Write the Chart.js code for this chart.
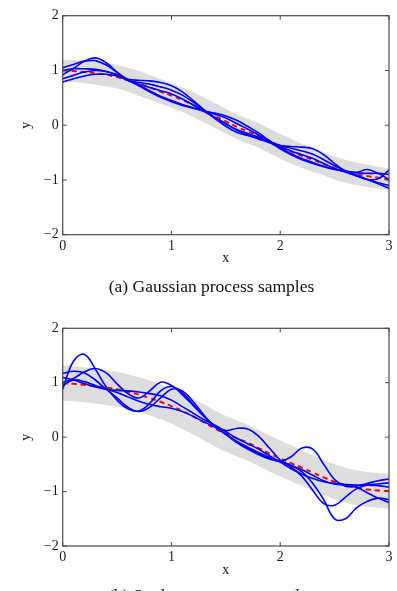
<!DOCTYPE html>
<html>
<head>
<meta charset="utf-8">
<script src="https://cdn.jsdelivr.net/npm/chart.js@4.4.1/dist/chart.umd.min.js"></script>
<style>
  body { margin: 0; width: 397px; height: 591px; overflow: hidden; background: #fff; position: relative; }
  canvas { position: absolute; left: 0; }
  #c1 { top: 0; }
  #c2 { top: 300px; }
  .cap { position: absolute; left: 0; width: 423px; text-align: center; font: 17.5px "Liberation Serif", serif; line-height: 20px; color: #111; white-space: nowrap; }
</style>
</head>
<body>
<canvas id="c1" width="397" height="300"></canvas>
<canvas id="c2" width="397" height="291"></canvas>
<div class="cap" style="top:276px">(a) Gaussian process samples</div>
<div class="cap" style="top:585px">(b) Student-t process samples</div>
<script>
// x grid shared by every curve
const xs = [0, 0.1, 0.2, 0.3, 0.4, 0.5, 0.6, 0.7, 0.8, 0.9, 1, 1.1, 1.2, 1.3, 1.4, 1.5,
  1.6, 1.7, 1.8, 1.9, 2, 2.1, 2.2, 2.3, 2.4, 2.5, 2.6, 2.7, 2.8, 2.9, 3];
const xTicks = [0, 1, 2, 3];
const yTicks = [-2, -1, 0, 1, 2];

// (a) gaussian process
const meanA = [1.00, 0.99, 0.97, 0.95, 0.92, 0.88, 0.82, 0.76, 0.69, 0.61, 0.54, 0.46, 0.37, 0.27, 0.17, 0.07,
  -0.03, -0.11, -0.19, -0.29, -0.39, -0.48, -0.56, -0.63, -0.71, -0.78, -0.84, -0.89, -0.93, -0.96, -0.99];
const upperA = [1.20, 1.19, 1.18, 1.16, 1.14, 1.10, 1.05, 0.99, 0.92, 0.84, 0.77, 0.69, 0.60, 0.50, 0.40, 0.30,
  0.20, 0.12, 0.04, -0.06, -0.16, -0.25, -0.34, -0.41, -0.49, -0.57, -0.63, -0.68, -0.72, -0.76, -0.79];
const lowerA = [0.80, 0.79, 0.77, 0.74, 0.71, 0.67, 0.61, 0.54, 0.47, 0.39, 0.32, 0.24, 0.15, 0.05, -0.05, -0.15,
  -0.25, -0.33, -0.41, -0.51, -0.61, -0.70, -0.78, -0.85, -0.92, -0.99, -1.05, -1.09, -1.13, -1.16, -1.19];
const sampA1 = [0.92, 1.04, 1.17, 1.23, 1.14, 0.97, 0.82, 0.78, 0.75, 0.70, 0.64, 0.55, 0.42, 0.27, 0.14, 0.02,
  -0.08, -0.15, -0.22, -0.30, -0.37, -0.42, -0.47, -0.53, -0.63, -0.74, -0.83, -0.86, -0.81, -0.88, -0.99];
const sampA2 = [1.05, 1.11, 1.17, 1.18, 1.10, 0.96, 0.83, 0.73, 0.63, 0.53, 0.45, 0.38, 0.32, 0.26, 0.22, 0.17,
  0.09, -0.02, -0.14, -0.28, -0.41, -0.52, -0.61, -0.68, -0.75, -0.80, -0.84, -0.87, -0.88, -0.88, -0.90];
const sampA3 = [1.00, 1.03, 1.03, 1.02, 0.98, 0.92, 0.84, 0.82, 0.81, 0.78, 0.72, 0.61, 0.45, 0.28, 0.12, -0.02,
  -0.13, -0.19, -0.24, -0.31, -0.39, -0.47, -0.54, -0.61, -0.70, -0.79, -0.86, -0.92, -0.99, -0.98, -0.82];
const sampA4 = [0.85, 0.91, 0.97, 1.00, 0.98, 0.92, 0.82, 0.72, 0.61, 0.51, 0.43, 0.36, 0.31, 0.26, 0.20, 0.13,
  0.03, -0.07, -0.18, -0.31, -0.43, -0.54, -0.63, -0.70, -0.76, -0.81, -0.85, -0.91, -0.99, -1.07, -1.15];
const sampA5 = [0.79, 0.85, 0.90, 0.93, 0.93, 0.90, 0.82, 0.75, 0.69, 0.63, 0.57, 0.48, 0.37, 0.25, 0.14, 0.03,
  -0.09, -0.18, -0.25, -0.32, -0.37, -0.39, -0.40, -0.43, -0.54, -0.70, -0.84, -0.93, -0.99, -1.05, -1.10];

// (b) student-t process
const meanB = [0.99, 0.98, 0.96, 0.94, 0.91, 0.88, 0.83, 0.78, 0.72, 0.65, 0.57, 0.48, 0.38, 0.27, 0.16, 0.06,
  -0.02, -0.10, -0.20, -0.30, -0.39, -0.48, -0.56, -0.65, -0.74, -0.82, -0.88, -0.93, -0.96, -0.98, -0.99];
const upperB = [1.31, 1.30, 1.28, 1.26, 1.23, 1.20, 1.15, 1.10, 1.04, 0.97, 0.90, 0.81, 0.71, 0.60, 0.49, 0.39,
  0.31, 0.23, 0.13, 0.03, -0.06, -0.15, -0.24, -0.33, -0.42, -0.50, -0.56, -0.61, -0.64, -0.66, -0.67];
const lowerB = [0.67, 0.66, 0.64, 0.62, 0.59, 0.56, 0.51, 0.46, 0.40, 0.33, 0.25, 0.15, 0.05, -0.06, -0.17, -0.27,
  -0.35, -0.43, -0.53, -0.63, -0.72, -0.81, -0.89, -0.98, -1.06, -1.14, -1.20, -1.25, -1.28, -1.30, -1.31];
const sampB1 = [0.88, 1.40, 1.52, 1.25, 0.92, 0.68, 0.52, 0.48, 0.62, 0.85, 0.93, 0.82, 0.60, 0.38, 0.20, 0.06,
  -0.08, -0.20, -0.30, -0.38, -0.44, -0.52, -0.64, -0.85, -1.15, -1.50, -1.50, -1.30, -1.18, -1.12, -1.15];
const sampB2 = [1.00, 1.08, 1.20, 1.26, 1.18, 0.98, 0.80, 0.72, 0.85, 1.01, 0.95, 0.78, 0.58, 0.38, 0.20, 0.05,
  -0.08, -0.18, -0.28, -0.37, -0.44, -0.36, -0.20, -0.22, -0.50, -0.78, -0.90, -0.90, -0.85, -0.80, -0.77];
const sampB3 = [1.17, 1.21, 1.18, 1.05, 0.88, 0.72, 0.55, 0.47, 0.55, 0.72, 0.88, 0.85, 0.65, 0.40, 0.20, 0.12,
  0.16, 0.15, 0.02, -0.20, -0.42, -0.55, -0.72, -0.98, -1.22, -1.25, -1.10, -0.95, -0.88, -0.86, -0.84];
const sampB4 = [1.10, 1.05, 0.98, 0.92, 0.88, 0.82, 0.74, 0.66, 0.60, 0.56, 0.53, 0.47, 0.38, 0.28, 0.18, 0.05,
  -0.10, -0.22, -0.32, -0.40, -0.45, -0.52, -0.60, -0.70, -0.80, -0.86, -0.88, -0.92, -1.02, -1.12, -1.20];
const sampB5 = [0.95, 1.05, 1.02, 0.95, 0.88, 0.86, 0.85, 0.83, 0.80, 0.76, 0.68, 0.56, 0.44, 0.32, 0.22, 0.10,
  -0.02, -0.12, -0.22, -0.34, -0.46, -0.58, -0.68, -0.76, -0.82, -0.85, -0.87, -0.88, -0.88, -0.89, -0.92];

const tickFont = { family: 'Liberation Serif', size: 14 };
const txt = '#1a1a1a';
const frameCol = '#4a4a4a';

// pgfplots style box with ticks pointing inwards
const boxPlugin = {
  id: 'box',
  afterDraw(chart) {
    const { ctx, chartArea: a, scales } = chart;
    ctx.save();
    ctx.strokeStyle = frameCol;
    ctx.lineWidth = 1;
    ctx.beginPath();
    xTicks.forEach(v => {
      const p = scales.x.getPixelForValue(v);
      ctx.moveTo(p, a.bottom); ctx.lineTo(p, a.bottom - 4);
      ctx.moveTo(p, a.top); ctx.lineTo(p, a.top + 4);
    });
    yTicks.forEach(v => {
      const p = scales.y.getPixelForValue(v);
      ctx.moveTo(a.left, p); ctx.lineTo(a.left + 4, p);
      ctx.moveTo(a.right, p); ctx.lineTo(a.right - 4, p);
    });
    ctx.stroke();
    ctx.lineWidth = 1.2;
    ctx.strokeRect(a.left, a.top, a.right - a.left, a.bottom - a.top);
    ctx.restore();
  }
};

const pts = ys => ys.map((y, i) => ({ x: xs[i], y }));
const minus = v => (v < 0 ? '\u2212' + Math.abs(v) : '' + v);

const drawChart = (id, mean, upper, lower, samples, lay) => {
  const datasets = [];
  samples.forEach(s => {
    datasets.push({ data: pts(s), borderColor: 'rgb(0,0,255)', borderWidth: 1.6, tension: 0.4, order: 1 });
  });
  datasets.push({ data: pts(mean), borderColor: 'rgb(255,0,0)', borderWidth: 2, borderDash: [5, 4], tension: 0.4, order: 2 });
  datasets.push({ data: pts(upper), borderWidth: 0, borderColor: 'rgba(0,0,0,0)', backgroundColor: 'rgb(221,221,221)', fill: '+1', tension: 0.4, order: 3 });
  datasets.push({ data: pts(lower), borderWidth: 0, borderColor: 'rgba(0,0,0,0)', fill: false, tension: 0.4, order: 4 });

  new Chart(document.getElementById(id), {
    type: 'line',
    data: { datasets },
    options: {
      responsive: false,
      animation: false,
      devicePixelRatio: 1,
      layout: { padding: { top: lay.top, right: 8, left: 0, bottom: 0 } },
      elements: { point: { radius: 0 } },
      plugins: { legend: { display: false }, tooltip: { enabled: false } },
      scales: {
        x: {
          type: 'linear', min: 0, max: 3,
          afterBuildTicks: s => { s.ticks = xTicks.map(v => ({ value: v })); },
          ticks: { padding: 3, color: txt, font: tickFont, callback: minus, maxRotation: 0 },
          grid: { display: false, drawTicks: false },
          border: { display: false },
          title: { display: true, text: 'x', color: txt, font: tickFont, padding: { top: 0, bottom: lay.xTitle } },
          afterFit: s => { s.height = lay.xh; }
        },
        y: {
          min: -2, max: 2,
          afterBuildTicks: s => { s.ticks = yTicks.map(v => ({ value: v })); },
          ticks: { padding: 4, color: txt, font: tickFont, callback: minus },
          grid: { display: false, drawTicks: false },
          border: { display: false },
          title: { display: true, text: 'y', color: txt, font: tickFont, padding: { top: 18.3, bottom: 0 } },
          afterFit: s => { s.width = 62.7; }
        }
      }
    },
    plugins: [boxPlugin]
  });
};

document.addEventListener('DOMContentLoaded', () => {
  drawChart('c1', meanA, upperA, lowerA, [sampA1, sampA2, sampA3, sampA4, sampA5],
    { top: 15.7, xh: 65.3, xTitle: 33.3 });
  drawChart('c2', meanB, upperB, lowerB, [sampB1, sampB2, sampB3, sampB4, sampB5],
    { top: 28.3, xh: 45, xTitle: 11.9 });
});
</script>
</body>
</html>
